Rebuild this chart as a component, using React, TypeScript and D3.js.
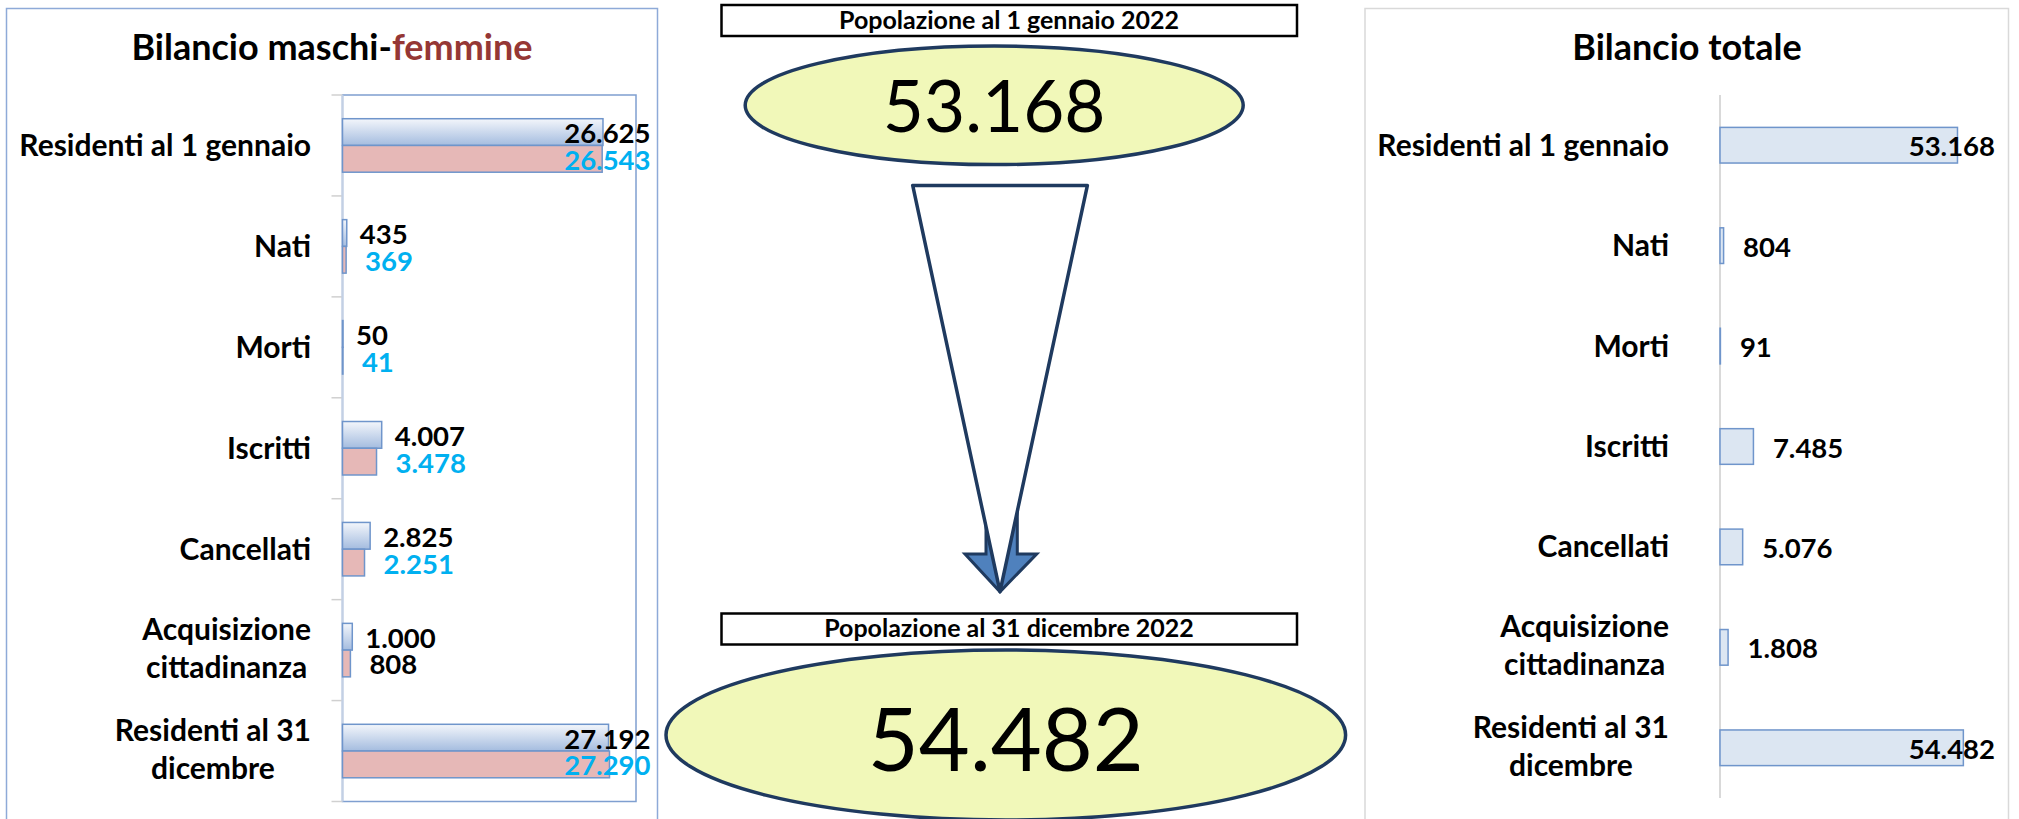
import React, { useRef, useEffect } from "react";
import * as d3 from "d3";

// categorie del bilancio demografico
const categorie = [
  "Residenti al 1 gennaio",
  "Nati",
  "Morti",
  "Iscritti",
  "Cancellati",
  "Acquisizione\ncittadinanza",
  "Residenti al 31\ndicembre",
];
const maschi = [26625, 435, 50, 4007, 2825, 1000, 27192];
const femmine = [26543, 369, 41, 3478, 2251, 808, 27290];
const totale = [53168, 804, 91, 7485, 5076, 1808, 54482];

const popolazioneInizio = 53168;
const popolazioneFine = 54482;
const titoloInizio = "Popolazione al 1 gennaio 2022";
const titoloFine = "Popolazione al 31 dicembre 2022";

const W = 2019;
const H = 819;
const FONT = "Lato, 'Open Sans', sans-serif";
const NAVY = "#1f3a5f";

const App = () => {
  const ref = useRef<SVGSVGElement>(null);

  useEffect(() => {
    document.body.style.margin = "0";
    const svg = d3.select(ref.current);
    svg.selectAll("*").remove();

    const fmt = d3
      .formatLocale({ decimal: ",", thousands: ".", grouping: [3], currency: ["", ""] })
      .format(",d");

    const defs = svg.append("defs");
    const grad = defs
      .append("linearGradient")
      .attr("id", "gradMaschi")
      .attr("x1", 0)
      .attr("y1", 0)
      .attr("x2", 0)
      .attr("y2", 1);
    grad.append("stop").attr("offset", "0%").attr("stop-color", "#f3f6fb");
    grad.append("stop").attr("offset", "100%").attr("stop-color", "#a4bcdf");

    const txt = (sel: any, size: number, weight = 700) =>
      sel
        .append("text")
        .attr("font-family", FONT)
        .attr("font-size", size)
        .attr("font-weight", weight);

    const width = (t: any) => (t.node() as SVGTextElement).getComputedTextLength();

    // etichette delle categorie, righe centrate tra loro, blocco allineato a destra
    const drawCategoryLabels = (xRight: number, y: d3.ScaleBand<string>) => {
      categorie.forEach((c) => {
        const lines = c.split("\n");
        const cy = (y(c) as number) + y.bandwidth() / 2;
        const texts = lines.map((l, j) =>
          txt(svg, 30)
            .attr("y", cy + 10.5 + (j - (lines.length - 1) / 2) * 38 - (lines.length > 1 ? 1.5 : 0))
            .attr("fill", "#000")
            .text(l)
        );
        const maxW = Math.max(...texts.map(width));
        texts.forEach((t) => t.attr("x", xRight - maxW / 2).attr("text-anchor", "middle"));
      });
    };

    // etichette dei valori: fuori dalla barra, spostate a sinistra se escono dall'area
    const valueLabel = (xEnd: number, gap: number, cy: number, value: number, color: string, clamp: number) => {
      const t = txt(svg, 27.5).attr("y", cy + 11).attr("fill", color).text(fmt(value));
      const w = width(t);
      let xx = xEnd + gap;
      if (xx + w > clamp) xx = clamp - w;
      t.attr("x", xx);
    };

    // ---------------- pannello maschi-femmine ----------------
    svg
      .append("rect")
      .attr("x", 6.5)
      .attr("y", 8.5)
      .attr("width", 651)
      .attr("height", 840)
      .attr("fill", "#fff")
      .attr("stroke", "#8eaad8")
      .attr("stroke-width", 1.5);

    const t1 = txt(svg, 36).attr("x", 332).attr("y", 60).attr("text-anchor", "middle");
    t1.append("tspan").attr("fill", "#000").text("Bilancio maschi-");
    t1.append("tspan").attr("fill", "#953735").text("femmine");

    const yL = d3
      .scaleBand<string>()
      .domain(categorie)
      .range([95, 801.5])
      .paddingInner(0.47)
      .paddingOuter(0.235);
    const ySub = d3.scaleBand<string>().domain(["M", "F"]).range([0, yL.bandwidth()]);
    const xL = d3.scaleLinear().domain([0, 30000]).range([342.5, 636]);

    svg
      .append("rect")
      .attr("x", xL.range()[0])
      .attr("y", yL.range()[0])
      .attr("width", xL.range()[1] - xL.range()[0])
      .attr("height", yL.range()[1] - yL.range()[0])
      .attr("fill", "none")
      .attr("stroke", "#7f9fd0")
      .attr("stroke-width", 1.5);

    // asse e tacche
    svg
      .selectAll(".tickL")
      .data(d3.range(categorie.length + 1))
      .enter()
      .append("line")
      .attr("x1", xL.range()[0] - 11)
      .attr("x2", xL.range()[0])
      .attr("y1", (i) => yL.range()[0] + i * yL.step())
      .attr("y2", (i) => yL.range()[0] + i * yL.step())
      .attr("stroke", "#d0d0d0")
      .attr("stroke-width", 1.5);
    svg
      .append("line")
      .attr("x1", xL.range()[0])
      .attr("x2", xL.range()[0])
      .attr("y1", yL.range()[0])
      .attr("y2", yL.range()[1])
      .attr("stroke", "#c3d0e4")
      .attr("stroke-width", 2);

    categorie.forEach((c, i) => {
      const y0 = yL(c) as number;
      svg
        .append("rect")
        .attr("x", xL(0))
        .attr("y", y0 + (ySub("M") as number))
        .attr("width", xL(maschi[i]) - xL(0))
        .attr("height", ySub.bandwidth())
        .attr("fill", "url(#gradMaschi)")
        .attr("stroke", "#6f95cb")
        .attr("stroke-width", 1.5);
      svg
        .append("rect")
        .attr("x", xL(0))
        .attr("y", y0 + (ySub("F") as number))
        .attr("width", xL(femmine[i]) - xL(0))
        .attr("height", ySub.bandwidth())
        .attr("fill", "#e6b8b7")
        .attr("stroke", "#6f95cb")
        .attr("stroke-width", 1.5);
    });

    categorie.forEach((c, i) => {
      const y0 = yL(c) as number;
      const cyM = y0 + (ySub("M") as number) + ySub.bandwidth() / 2;
      const cyF = y0 + (ySub("F") as number) + ySub.bandwidth() / 2;
      valueLabel(xL(maschi[i]), 13, cyM, maschi[i], "#000", 650.5);
      const colF = c.startsWith("Acquisizione") ? "#000" : "#00b0f0";
      valueLabel(xL(femmine[i]), 19, cyF, femmine[i], colF, 650.5);
    });

    drawCategoryLabels(311, yL);

    // ---------------- pannello centrale ----------------
    const box = (yTop: number, label: string) => {
      svg
        .append("rect")
        .attr("x", 721.5)
        .attr("y", yTop)
        .attr("width", 575.5)
        .attr("height", 31)
        .attr("fill", "#fff")
        .attr("stroke", "#000")
        .attr("stroke-width", 2.5);
      txt(svg, 25)
        .attr("x", 1009)
        .attr("y", yTop + 23.5)
        .attr("text-anchor", "middle")
        .attr("fill", "#000")
        .text(label);
    };
    const bubble = (cx: number, cy: number, rx: number, ry: number, value: number, size: number, base: number) => {
      svg
        .append("ellipse")
        .attr("cx", cx)
        .attr("cy", cy)
        .attr("rx", rx)
        .attr("ry", ry)
        .attr("fill", "#f1f8b9")
        .attr("stroke", NAVY)
        .attr("stroke-width", 3.5);
      txt(svg, size, 400)
        .attr("x", cx)
        .attr("y", base)
        .attr("text-anchor", "middle")
        .attr("fill", "#000")
        .text(fmt(value));
    };

    box(5, titoloInizio);
    bubble(994.2, 105.3, 249, 59.3, popolazioneInizio, 71, 131.6);

    // freccia blu sotto il triangolo
    const freccia: [number, number][] = [
      [986, 500],
      [1017.3, 500],
      [1017.3, 554],
      [1036.7, 554],
      [1000, 591.7],
      [965, 554],
      [986, 554],
    ];
    svg
      .append("polygon")
      .attr("points", freccia.map((p) => p.join(",")).join(" "))
      .attr("fill", "#4f81bd")
      .attr("stroke", NAVY)
      .attr("stroke-width", 3)
      .attr("stroke-linejoin", "miter");
    const triangolo: [number, number][] = [
      [912.7, 185.4],
      [1087.4, 185.4],
      [1000, 591.7],
    ];
    svg
      .append("polygon")
      .attr("points", triangolo.map((p) => p.join(",")).join(" "))
      .attr("fill", "#fff")
      .attr("stroke", NAVY)
      .attr("stroke-width", 3.5)
      .attr("stroke-linejoin", "round");

    box(613.5, titoloFine);
    bubble(1005.8, 735, 339.8, 85, popolazioneFine, 88, 770.7);

    // ---------------- pannello totale ----------------
    svg
      .append("rect")
      .attr("x", 1365)
      .attr("y", 8.5)
      .attr("width", 643.5)
      .attr("height", 840)
      .attr("fill", "none")
      .attr("stroke", "#d9d9d9")
      .attr("stroke-width", 1.5);

    txt(svg, 36)
      .attr("x", 1687)
      .attr("y", 60)
      .attr("text-anchor", "middle")
      .attr("fill", "#000")
      .text("Bilancio totale");

    const yR = d3
      .scaleBand<string>()
      .domain(categorie)
      .range([95, 798])
      .paddingInner(0.645)
      .paddingOuter(0.3225);
    const xR = d3.scaleLinear().domain([0, 60000]).range([1720, 1988]);

    svg
      .append("line")
      .attr("x1", xR(0))
      .attr("x2", xR(0))
      .attr("y1", yR.range()[0])
      .attr("y2", yR.range()[1])
      .attr("stroke", "#d9d9d9")
      .attr("stroke-width", 2);

    categorie.forEach((c, i) => {
      svg
        .append("rect")
        .attr("x", xR(0))
        .attr("y", yR(c) as number)
        .attr("width", xR(totale[i]) - xR(0))
        .attr("height", yR.bandwidth())
        .attr("fill", "#dce6f2")
        .attr("stroke", "#6f95cb")
        .attr("stroke-width", 1.5);
    });
    categorie.forEach((c, i) => {
      const cy = (yR(c) as number) + yR.bandwidth() / 2;
      valueLabel(xR(totale[i]), 19.5, cy, totale[i], "#000", 1995);
    });

    drawCategoryLabels(1669, yR);
  }, []);

  return (
    <svg
      ref={ref}
      width={W}
      height={H}
      style={{ display: "block", background: "#fff" }}
    ></svg>
  );
};

export default App;
